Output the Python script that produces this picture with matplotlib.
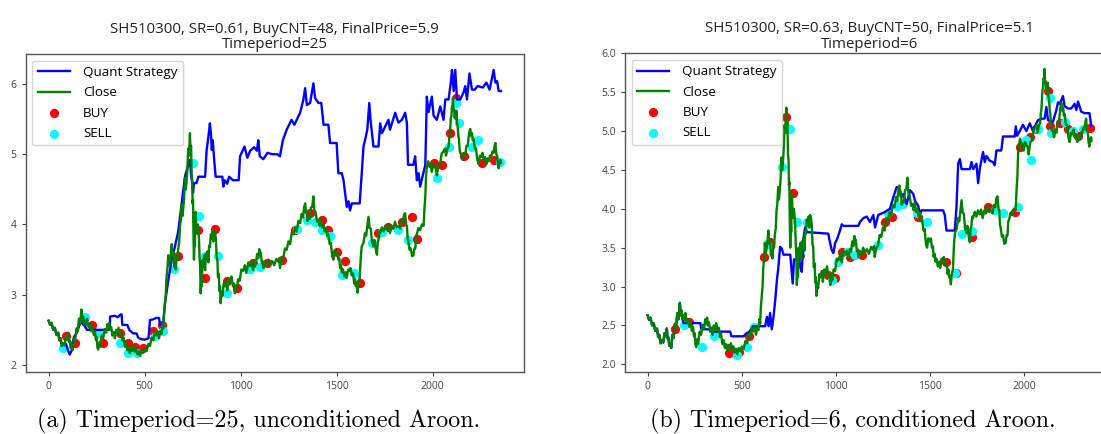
import matplotlib
matplotlib.use("Agg")
import matplotlib.pyplot as plt

# ---------------- data ----------------
close_x = [0, 8, 15, 24, 32, 41, 50, 56, 62, 69, 76, 83, 90, 96, 102, 106, 110, 115, 119, 125,
           132, 138, 145, 151, 158, 164, 171, 176, 180, 185, 189, 195, 200, 208, 215, 222, 228, 235, 241, 246,
           250, 254, 258, 263, 268, 276, 284, 292, 300, 306, 312, 316, 319, 326, 332, 338, 345, 351, 358, 364,
           371, 378, 384, 390, 397, 403, 410, 416, 423, 429, 436, 442, 449, 455, 462, 469, 476, 484, 492, 500,
           510, 519, 528, 536, 545, 552, 560, 567, 575, 581, 588, 593, 597, 601, 606, 610, 614, 618, 623, 627,
           632, 636, 641, 645, 650, 654, 658, 662, 667, 671, 675, 680, 684, 688, 693, 697, 700, 705, 710, 714,
           718, 722, 727, 731, 736, 739, 742, 745, 748, 750, 752, 755, 757, 760, 762, 764, 766, 769, 772, 776,
           780, 783, 786, 789, 792, 795, 798, 802, 806, 810, 815, 819, 823, 828, 832, 836, 840, 845, 849, 854,
           858, 862, 867, 871, 875, 879, 882, 886, 890, 893, 896, 900, 905, 912, 919, 925, 930, 937, 945, 952,
           960, 965, 970, 975, 980, 987, 995, 1004, 1014, 1022, 1030, 1040, 1049, 1057, 1065, 1073, 1080, 1086, 1092, 1097,
           1101, 1105, 1110, 1114, 1118, 1126, 1135, 1144, 1153, 1164, 1175, 1186, 1197, 1201, 1205, 1214, 1222, 1231, 1240, 1249,
           1258, 1266, 1275, 1284, 1292, 1301, 1310, 1318, 1325, 1331, 1336, 1341, 1345, 1349, 1353, 1360, 1366, 1373, 1379, 1384,
           1390, 1398, 1405, 1412, 1418, 1425, 1431, 1438, 1445, 1451, 1457, 1464, 1470, 1477, 1483, 1490, 1496, 1503, 1509, 1514,
           1518, 1523, 1527, 1533, 1540, 1547, 1553, 1560, 1566, 1572, 1579, 1586, 1592, 1596, 1600, 1605, 1609, 1614, 1620, 1626,
           1631, 1640, 1648, 1654, 1660, 1666, 1672, 1678, 1685, 1692, 1697, 1701, 1706, 1710, 1714, 1718, 1723, 1727, 1736, 1745,
           1753, 1762, 1770, 1778, 1787, 1796, 1804, 1812, 1822, 1831, 1838, 1845, 1851, 1857, 1862, 1866, 1870, 1874, 1880, 1886,
           1893, 1900, 1905, 1910, 1914, 1918, 1926, 1935, 1944, 1953, 1958, 1962, 1966, 1970, 1977, 1984, 1990, 1996, 2003, 2010,
           2016, 2022, 2031, 2040, 2048, 2057, 2064, 2070, 2077, 2083, 2087, 2090, 2095, 2098, 2101, 2104, 2106, 2109, 2112, 2115,
           2118, 2121, 2124, 2127, 2130, 2134, 2137, 2141, 2144, 2150, 2157, 2163, 2170, 2176, 2183, 2190, 2196, 2201, 2205, 2209,
           2213, 2220, 2226, 2233, 2240, 2247, 2253, 2260, 2266, 2273, 2280, 2286, 2292, 2299, 2305, 2312, 2318, 2323, 2327, 2332,
           2336, 2340, 2344, 2347, 2350, 2353, 2356]
close_y = [2.63, 2.57, 2.60, 2.50, 2.53, 2.43, 2.46, 2.35, 2.38, 2.27, 2.31, 2.28, 2.40, 2.36, 2.46, 2.33, 2.35, 2.24, 2.27, 2.21,
           2.38, 2.34, 2.52, 2.48, 2.66, 2.58, 2.79, 2.63, 2.69, 2.58, 2.63, 2.57, 2.66, 2.54, 2.58, 2.48, 2.54, 2.43, 2.48, 2.36,
           2.40, 2.25, 2.22, 2.32, 2.26, 2.42, 2.38, 2.51, 2.46, 2.58, 2.53, 2.60, 2.50, 2.54, 2.42, 2.47, 2.38, 2.50, 2.44, 2.53,
           2.44, 2.47, 2.35, 2.39, 2.26, 2.31, 2.21, 2.26, 2.17, 2.25, 2.20, 2.27, 2.19, 2.23, 2.15, 2.20, 2.13, 2.21, 2.17, 2.23,
           2.20, 2.30, 2.27, 2.39, 2.35, 2.47, 2.42, 2.48, 2.38, 2.48, 2.44, 2.58, 2.52, 2.74, 2.88, 3.00, 3.25, 3.35, 3.56, 3.42,
           3.50, 3.58, 3.72, 3.55, 3.60, 3.40, 3.46, 3.36, 3.54, 3.50, 3.66, 3.75, 3.98, 4.05, 4.28, 4.12, 4.20, 4.35, 4.66, 4.50,
           4.60, 4.75, 5.08, 4.98, 5.30, 5.05, 5.12, 4.70, 4.62, 4.30, 4.35, 3.75, 3.50, 3.82, 3.70, 4.12, 4.18, 3.95, 3.88, 4.00,
           3.90, 3.80, 3.55, 3.40, 3.02, 3.22, 3.12, 3.50, 3.40, 3.56, 3.35, 3.58, 3.52, 3.62, 3.46, 3.70, 3.68, 3.86, 3.80, 3.90,
           3.76, 3.92, 3.88, 3.80, 3.55, 3.50, 3.25, 3.30, 3.05, 3.12, 2.88, 3.04, 2.98, 3.16, 3.12, 3.20, 3.06, 3.22, 3.18, 3.26,
           3.12, 3.16, 3.02, 3.12, 3.08, 3.22, 3.20, 3.36, 3.34, 3.42, 3.31, 3.46, 3.41, 3.46, 3.35, 3.48, 3.45, 3.58, 3.52, 3.65,
           3.58, 3.60, 3.46, 3.48, 3.38, 3.46, 3.41, 3.50, 3.44, 3.48, 3.42, 3.51, 3.47, 3.52, 3.38, 3.50, 3.52, 3.66, 3.64, 3.76,
           3.72, 3.88, 3.86, 3.96, 3.90, 4.05, 4.02, 4.15, 4.10, 4.25, 4.30, 4.16, 4.18, 4.05, 4.10, 4.08, 4.24, 4.25, 4.40, 4.20,
           4.18, 4.04, 4.06, 3.98, 4.08, 3.96, 4.00, 3.90, 3.95, 3.84, 3.86, 3.72, 3.74, 3.55, 3.50, 3.62, 3.58, 3.62, 3.50, 3.52,
           3.38, 3.42, 3.32, 3.36, 3.26, 3.32, 3.24, 3.36, 3.34, 3.38, 3.28, 3.30, 3.16, 3.22, 3.12, 3.14, 3.03, 3.15, 3.22, 3.55,
           3.69, 3.74, 3.88, 3.84, 3.98, 4.11, 3.95, 3.94, 3.74, 3.69, 3.78, 3.70, 3.62, 3.57, 3.74, 3.78, 3.90, 3.88, 3.96, 3.90,
           3.98, 3.93, 3.99, 3.88, 3.98, 3.94, 4.04, 3.96, 3.98, 3.94, 4.05, 4.02, 4.14, 4.16, 4.00, 3.98, 3.80, 3.75, 3.64, 3.66,
           3.55, 3.56, 3.66, 3.66, 3.84, 3.86, 3.95, 3.92, 4.00, 3.98, 4.25, 4.40, 4.70, 4.82, 4.90, 4.82, 4.84, 4.75, 4.86, 4.82,
           4.80, 4.70, 4.86, 4.88, 5.02, 5.04, 5.08, 4.98, 5.08, 5.10, 5.24, 5.28, 5.52, 5.55, 5.68, 5.66, 5.80, 5.62, 5.64, 5.52,
           5.58, 5.50, 5.62, 5.44, 5.42, 5.26, 5.22, 5.06, 5.02, 5.00, 4.92, 5.02, 4.98, 5.12, 5.12, 5.30, 5.36, 5.26, 5.30, 5.20,
           5.22, 5.08, 5.08, 4.92, 4.86, 4.98, 4.96, 5.02, 4.92, 4.96, 4.86, 4.94, 4.90, 4.98, 4.96, 5.04, 5.02, 5.12, 5.16, 5.00,
           4.98, 4.86, 4.80, 4.90, 4.86, 4.92, 4.88]

# Panel (a): Timeperiod=25, unconditioned Aroon
strat_a_x = [0, 8, 15, 24, 32, 41, 50, 56, 62, 69, 76, 90, 102, 110, 119, 132, 145, 158, 166, 180,
             189, 200, 250, 300, 319, 320, 345, 360, 375, 380, 384, 410, 420, 440, 458, 466, 480, 500, 520, 528,
             545, 560, 575, 580, 597, 606, 623, 641, 658, 675, 693, 710, 727, 736, 742, 748, 752, 757, 770, 780,
             815, 823, 830, 840, 845, 850, 855, 862, 870, 905, 910, 918, 930, 940, 960, 990, 997, 1010, 1020, 1035,
             1050, 1070, 1085, 1092, 1100, 1118, 1140, 1165, 1192, 1205, 1220, 1240, 1265, 1280, 1310, 1327, 1336, 1345, 1362, 1379,
             1388, 1405, 1420, 1432, 1457, 1466, 1500, 1509, 1527, 1536, 1553, 1562, 1570, 1579, 1620, 1631, 1640, 1648, 1660, 1670,
             1678, 1692, 1718, 1727, 1736, 1745, 1770, 1778, 1805, 1822, 1840, 1857, 1866, 1872, 1900, 1909, 1918, 1927, 1935, 1953,
             1962, 1970, 1979, 1996, 2005, 2022, 2040, 2057, 2066, 2083, 2095, 2101, 2110, 2118, 2127, 2144, 2161, 2170, 2179, 2192,
             2205, 2220, 2234, 2262, 2280, 2297, 2318, 2327, 2336, 2344, 2356]
strat_a_y = [2.63, 2.57, 2.60, 2.50, 2.53, 2.43, 2.46, 2.35, 2.38, 2.27, 2.31, 2.30, 2.20, 2.15, 2.20, 2.40, 2.45, 2.55, 2.62, 2.58,
             2.55, 2.50, 2.50, 2.50, 2.50, 2.69, 2.70, 2.68, 2.72, 2.72, 2.57, 2.57, 2.50, 2.45, 2.45, 2.39, 2.37, 2.36, 2.38, 2.64,
             2.65, 2.67, 2.67, 2.57, 2.60, 2.88, 3.20, 3.50, 3.69, 3.90, 4.30, 4.68, 4.85, 4.92, 4.70, 4.59, 4.45, 4.59, 4.59, 4.68,
             4.68, 5.06, 5.20, 5.44, 5.30, 5.06, 5.20, 4.93, 4.68, 4.68, 4.54, 4.63, 4.58, 4.68, 4.63, 4.63, 4.97, 5.05, 5.11, 4.95,
             5.05, 5.10, 5.05, 5.20, 4.97, 4.93, 5.02, 5.00, 5.00, 4.97, 5.20, 5.35, 5.49, 5.42, 5.59, 5.78, 5.94, 5.70, 5.73, 6.01,
             5.80, 5.73, 5.73, 5.42, 5.42, 5.16, 5.16, 4.73, 4.73, 4.63, 4.25, 4.33, 4.20, 4.30, 4.30, 4.73, 5.11, 5.20, 5.35, 5.73,
             5.45, 5.11, 5.11, 5.44, 5.30, 5.35, 5.49, 5.35, 5.59, 5.45, 5.49, 5.59, 5.45, 4.85, 4.85, 4.97, 4.63, 4.73, 4.54, 4.75,
             4.85, 5.82, 5.60, 5.82, 5.55, 5.49, 5.68, 5.49, 5.78, 5.78, 6.02, 6.20, 5.90, 6.20, 5.78, 5.78, 5.88, 5.97, 5.78, 6.15,
             5.92, 5.92, 5.97, 5.95, 6.02, 5.92, 6.20, 6.02, 6.04, 5.90, 5.90]
buy_a_x = [93, 137, 224, 284, 371, 415, 449, 493, 545, 588, 675, 780, 815, 867, 927, 980, 1066, 1136, 1214, 1284,
           1362, 1423, 1457, 1501, 1544, 1623, 1718, 1770, 1840, 1892, 1921, 2005, 2048, 2092, 2123, 2161, 2257, 2318]
buy_a_y = [2.41, 2.31, 2.57, 2.32, 2.45, 2.31, 2.26, 2.24, 2.48, 2.57, 3.55, 3.92, 3.24, 3.94, 3.19, 3.10, 3.45, 3.45, 3.50, 3.92,
           4.16, 4.07, 3.92, 3.61, 3.48, 3.17, 3.88, 3.97, 4.04, 4.11, 3.80, 4.87, 4.85, 5.30, 5.80, 4.97, 4.87, 4.92]
sell_a_x = [76, 189, 258, 371, 415, 458, 554, 597, 653, 750, 785, 815, 880, 927, 1049, 1101, 1292, 1345, 1388, 1423,
            1466, 1527, 1588, 1684, 1736, 1822, 1874, 2022, 2083, 2123, 2135, 2205, 2234, 2349]
sell_a_y = [2.24, 2.69, 2.45, 2.31, 2.17, 2.17, 2.41, 2.48, 3.36, 4.87, 4.12, 3.55, 3.55, 3.02, 3.36, 3.40, 3.94, 4.07, 4.04, 3.92,
            3.83, 3.28, 3.31, 3.73, 3.90, 3.92, 3.78, 4.66, 5.11, 5.73, 5.44, 5.11, 5.20, 4.89]

# Panel (b): Timeperiod=6, conditioned Aroon
strat_b_x = [0, 8, 15, 24, 32, 41, 50, 56, 62, 69, 76, 83, 90, 96, 102, 106, 110, 115, 119, 125,
             132, 138, 145, 151, 158, 164, 171, 176, 180, 185, 191, 280, 285, 330, 340,
             438, 445, 510, 520, 540, 560, 624, 633, 642, 650, 659, 668, 677, 686, 694, 703, 712, 721, 757, 770,
             777, 792, 800, 809, 818, 827, 836, 845, 959, 965, 977, 986, 995, 1004, 1021, 1030, 1039, 1118, 1127, 1145,
             1163, 1180, 1198, 1207, 1224, 1260, 1286, 1304, 1322, 1340, 1348, 1357, 1375, 1392, 1410, 1419, 1436, 1445, 1454, 1568,
             1577, 1586, 1630, 1639, 1648, 1657, 1666, 1710, 1719, 1728, 1745, 1754, 1763, 1780, 1789, 1798, 1815, 1833, 1842, 1851,
             1877, 1886, 1948, 1954, 1961, 1975, 1992, 2010, 2028, 2045, 2063, 2072, 2090, 2107, 2116, 2125, 2143, 2151, 2169, 2178,
             2187, 2204, 2213, 2231, 2248, 2266, 2275, 2284, 2301, 2318, 2345, 2349, 2354]
strat_b_y = [2.63, 2.57, 2.60, 2.50, 2.53, 2.43, 2.46, 2.35, 2.38, 2.27, 2.31, 2.28, 2.40, 2.36, 2.46, 2.33, 2.35, 2.24, 2.27, 2.21,
             2.38, 2.34, 2.52, 2.48, 2.66, 2.58, 2.79, 2.63, 2.69, 2.58, 2.53, 2.53, 2.45, 2.45, 2.42,
             2.42, 2.36, 2.36, 2.39, 2.42, 2.49, 2.49, 2.61, 2.49, 2.66, 2.45, 2.61, 2.82, 3.08, 3.25, 3.51, 3.49, 3.41, 3.41, 3.04,
             3.35, 3.35, 3.47, 3.26, 3.19, 3.62, 3.76, 3.70, 3.68, 3.60, 3.47, 3.43, 3.56, 3.60, 3.72, 3.80, 3.78, 3.78, 3.83, 3.88,
             3.90, 3.83, 3.92, 3.76, 3.92, 3.96, 4.00, 4.15, 4.28, 4.24, 4.15, 4.19, 4.06, 4.24, 4.19, 4.10, 4.04, 3.93, 3.98, 3.98,
             3.92, 3.72, 3.72, 4.02, 4.58, 4.64, 4.51, 4.51, 4.60, 4.51, 4.58, 4.33, 4.52, 4.73, 4.60, 4.68, 4.62, 4.60, 4.56, 4.75,
             4.75, 4.93, 4.93, 5.06, 4.94, 5.00, 5.08, 5.00, 5.10, 5.00, 5.10, 5.14, 5.16, 5.16, 5.31, 5.14, 5.12, 5.12, 5.27, 5.37,
             5.35, 5.45, 5.32, 5.29, 5.29, 5.35, 5.27, 5.38, 5.25, 5.23, 5.23, 5.16, 5.06]
buy_b_x = [147, 218, 430, 483, 536, 619, 650, 735, 774, 809, 959, 995, 1030, 1074, 1136, 1260, 1295, 1436, 1586, 1639,
           1719, 1807, 1948, 1975, 2028, 2063, 2125, 2134, 2186, 2230, 2283, 2345]
buy_b_y = [2.45, 2.55, 2.14, 2.16, 2.36, 3.38, 3.57, 5.18, 4.20, 3.41, 3.15, 3.11, 3.44, 3.38, 3.40, 3.83, 3.89, 3.89, 3.32, 3.17,
           3.64, 4.02, 3.96, 4.79, 4.92, 5.03, 5.51, 5.06, 5.10, 5.03, 4.94, 5.04]
sell_b_x = [191, 289, 350, 474, 527, 562, 633, 713, 753, 792, 809, 845, 977, 1012, 1056, 1100, 1224, 1277, 1322, 1357,
            1427, 1480, 1630, 1666, 1719, 1842, 1886, 1966, 2010, 2037, 2072, 2134, 2143, 2213, 2257, 2310]
sell_b_y = [2.50, 2.22, 2.36, 2.12, 2.22, 2.48, 3.55, 4.54, 5.03, 3.83, 3.45, 3.83, 3.08, 3.32, 3.44, 3.40, 3.53, 3.94, 4.04, 4.06,
            3.94, 3.83, 3.17, 3.68, 3.72, 3.98, 3.94, 4.02, 4.88, 4.63, 5.03, 5.42, 4.98, 5.11, 5.00, 5.03]

titles = ["SH510300, SR=0.61, BuyCNT=48, FinalPrice=5.9\nTimeperiod=25",
          "SH510300, SR=0.63, BuyCNT=50, FinalPrice=5.1\nTimeperiod=6"]
captions = ["(a) Timeperiod=25, unconditioned Aroon.",
            "(b) Timeperiod=6, conditioned Aroon."]

# ---------------- figure ----------------
plt.rcParams['font.family'] = ['Open Sans', 'DejaVu Sans']
fig = plt.figure(figsize=(11.01, 4.34), dpi=100)

W, H = 1101.0, 434.0
ax_a = fig.add_axes([25.6 / W, (H - 372.3) / H, (523.8 - 25.6) / W, (372.3 - 54.0) / H])
ax_b = fig.add_axes([625.0 / W, (H - 372.3) / H, (1114.0 - 625.0) / W, (372.3 - 53.3) / H])

panels = [
    (ax_a, strat_a_x, strat_a_y, buy_a_x, buy_a_y, sell_a_x, sell_a_y, (1.896, 6.427), [2, 3, 4, 5, 6], ["2", "3", "4", "5", "6"]),
    (ax_b, strat_b_x, strat_b_y, buy_b_x, buy_b_y, sell_b_x, sell_b_y, (1.897, 6.0),
     [2.0, 2.5, 3.0, 3.5, 4.0, 4.5, 5.0, 5.5, 6.0], ["2.0", "2.5", "3.0", "3.5", "4.0", "4.5", "5.0", "5.5", "6.0"]),
]

for i, (ax, sx, sy, bx, by, lx, ly, ylim, yt, ytl) in enumerate(panels):
    ax.plot(sx, sy, color='blue', lw=1.7, label='Quant Strategy')
    ax.plot(close_x, close_y, color='green', lw=1.7, label='Close')
    ax.scatter(bx, by, color='red', s=32, label='BUY')
    ax.scatter(lx, ly, color='cyan', s=32, label='SELL')
    ax.set_xlim(-120, 2475)
    ax.set_ylim(*ylim)
    ax.set_xticks([0, 500, 1000, 1500, 2000])
    ax.set_yticks(yt)
    ax.set_yticklabels(ytl)
    ax.tick_params(labelsize=7.5, colors='#444444', length=3, width=0.8)
    for s in ax.spines.values():
        s.set_color('#555555')
        s.set_linewidth(1.0)
    ax.set_title(titles[i], fontsize=10.8, color='#222222', pad=4, linespacing=1.05)
    leg = ax.legend(loc='upper left', fontsize=9.6, handlelength=2.4, framealpha=0.8,
                    borderpad=0.4, labelspacing=0.55, handletextpad=1.0)
    leg.get_frame().set_edgecolor('#cccccc')

fig.text(259 / W, 1 - 421 / H, captions[0], ha='center', va='center', fontsize=17.3, family='cmr10')
fig.text(852.6 / W, 1 - 421 / H, captions[1], ha='center', va='center', fontsize=17.3, family='cmr10')

fig.savefig('out.png', dpi=100)
